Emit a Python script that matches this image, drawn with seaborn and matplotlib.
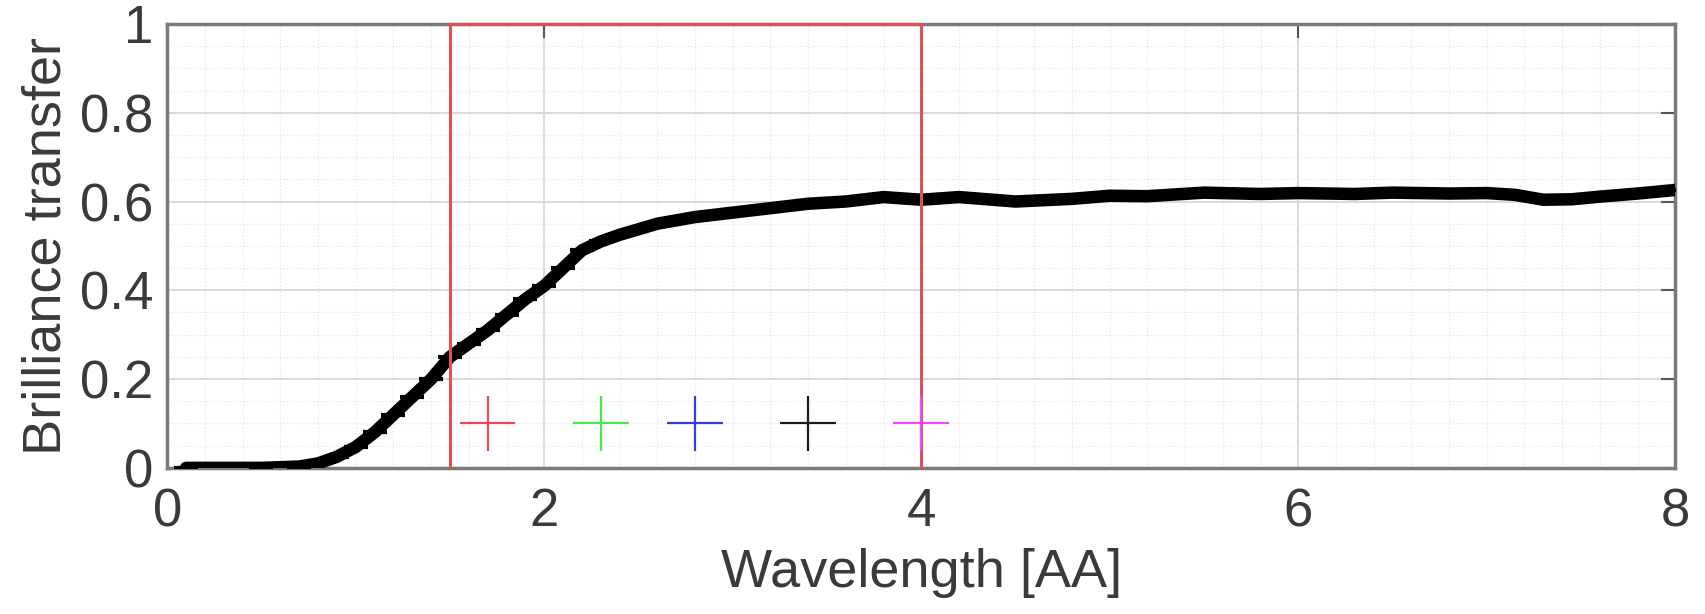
import numpy as np
import pandas as pd
import matplotlib.pyplot as plt
import seaborn as sns
from matplotlib.ticker import MultipleLocator

# 曲线数据
wavelength = [0.1, 0.5, 0.7, 0.8, 0.9, 1.0, 1.1, 1.2, 1.3, 1.4, 1.5, 1.6, 1.7, 1.8, 1.9,
              2.0, 2.1, 2.2, 2.3, 2.4, 2.6, 2.8, 3.0, 3.2, 3.4, 3.6, 3.8, 4.0, 4.2, 4.5,
              4.8, 5.0, 5.2, 5.5, 5.8, 6.0, 6.3, 6.5, 6.8, 7.0, 7.15, 7.3, 7.45, 7.6,
              7.8, 8.0]
transfer = [0.0, 0.0, 0.003, 0.01, 0.025, 0.047, 0.08, 0.12, 0.16, 0.20, 0.25, 0.28,
            0.31, 0.345, 0.38, 0.41, 0.45, 0.49, 0.51, 0.525, 0.55, 0.565, 0.575, 0.585,
            0.595, 0.60, 0.61, 0.604, 0.61, 0.60, 0.606, 0.613, 0.612, 0.62, 0.617, 0.619,
            0.617, 0.62, 0.618, 0.619, 0.615, 0.604, 0.605, 0.611, 0.618, 0.626]

# 红色区间
band_lo, band_hi = 1.5, 4.0

# 十字标记
mark_x = [1.7, 2.3, 2.8, 3.4, 4.0]
mark_y = [0.1, 0.1, 0.1, 0.1, 0.1]
mark_colors = ['#ec4a52', '#4ee44e', '#3a3ae0', '#1a1a1a', '#f04af0']

sns.set_theme(style='white')
plt.rcParams['font.family'] = ['Liberation Sans', 'DejaVu Sans']

fig = plt.figure(figsize=(17.06, 6.14), dpi=100)
ax = fig.add_axes([0.098, 0.238, 0.884, 0.723])

# 网格
ax.xaxis.set_major_locator(MultipleLocator(2))
ax.xaxis.set_minor_locator(MultipleLocator(0.2))
ax.yaxis.set_major_locator(MultipleLocator(0.2))
ax.yaxis.set_minor_locator(MultipleLocator(0.05))
ax.grid(which='major', color='#d4d4d4', linewidth=1.2)
ax.grid(which='minor', color='#e6e6e6', linewidth=0.9, linestyle=':')
ax.set_axisbelow(True)

df = pd.DataFrame({'x': wavelength, 'y': transfer})
sns.lineplot(data=df, x='x', y='y', color='black', linewidth=9, ax=ax, zorder=3)
sns.scatterplot(data=df, x='x', y='y', marker='_', s=320, color='black',
                linewidth=3, ax=ax, zorder=3)

# 红色矩形框
rect_x = [band_lo, band_lo, band_hi, band_hi]
rect_y = [0, 1, 1, 0]
ax.plot(rect_x, rect_y, color='#e0505a', linewidth=2.2, zorder=4, clip_on=False)

mdf = pd.DataFrame({'x': mark_x, 'y': mark_y, 'c': [str(i) for i in range(len(mark_x))]})
sns.scatterplot(data=mdf, x='x', y='y', hue='c', palette=mark_colors, marker='+',
                s=1600, linewidth=1.6, legend=False, ax=ax, zorder=5)

ax.set_xlim(0, 8)
ax.set_ylim(0, 1)
ax.set_xticks([0, 2, 4, 6, 8])
ax.set_xticklabels(['0', '2', '4', '6', '8'])
ax.set_yticks([0, 0.2, 0.4, 0.6, 0.8, 1])
ax.set_yticklabels(['0', '0.2', '0.4', '0.6', '0.8', '1'])

tc = '#3a3a3a'
ax.tick_params(which='major', direction='in', length=10, width=1.5, colors='#555555',
               labelcolor=tc, labelsize=38, pad=14, top=True, right=True)
ax.tick_params(axis='y', which='major', pad=10)
ax.tick_params(which='minor', length=0)
for s in ax.spines.values():
    s.set_color('#7a7a7a')
    s.set_linewidth(2.5)

ax.set_xlabel('Wavelength [AA]', fontsize=39, color=tc, labelpad=8)
ax.set_ylabel('Brilliance transfer', fontsize=39, color=tc, labelpad=6)

plt.savefig('out.png', dpi=100)
